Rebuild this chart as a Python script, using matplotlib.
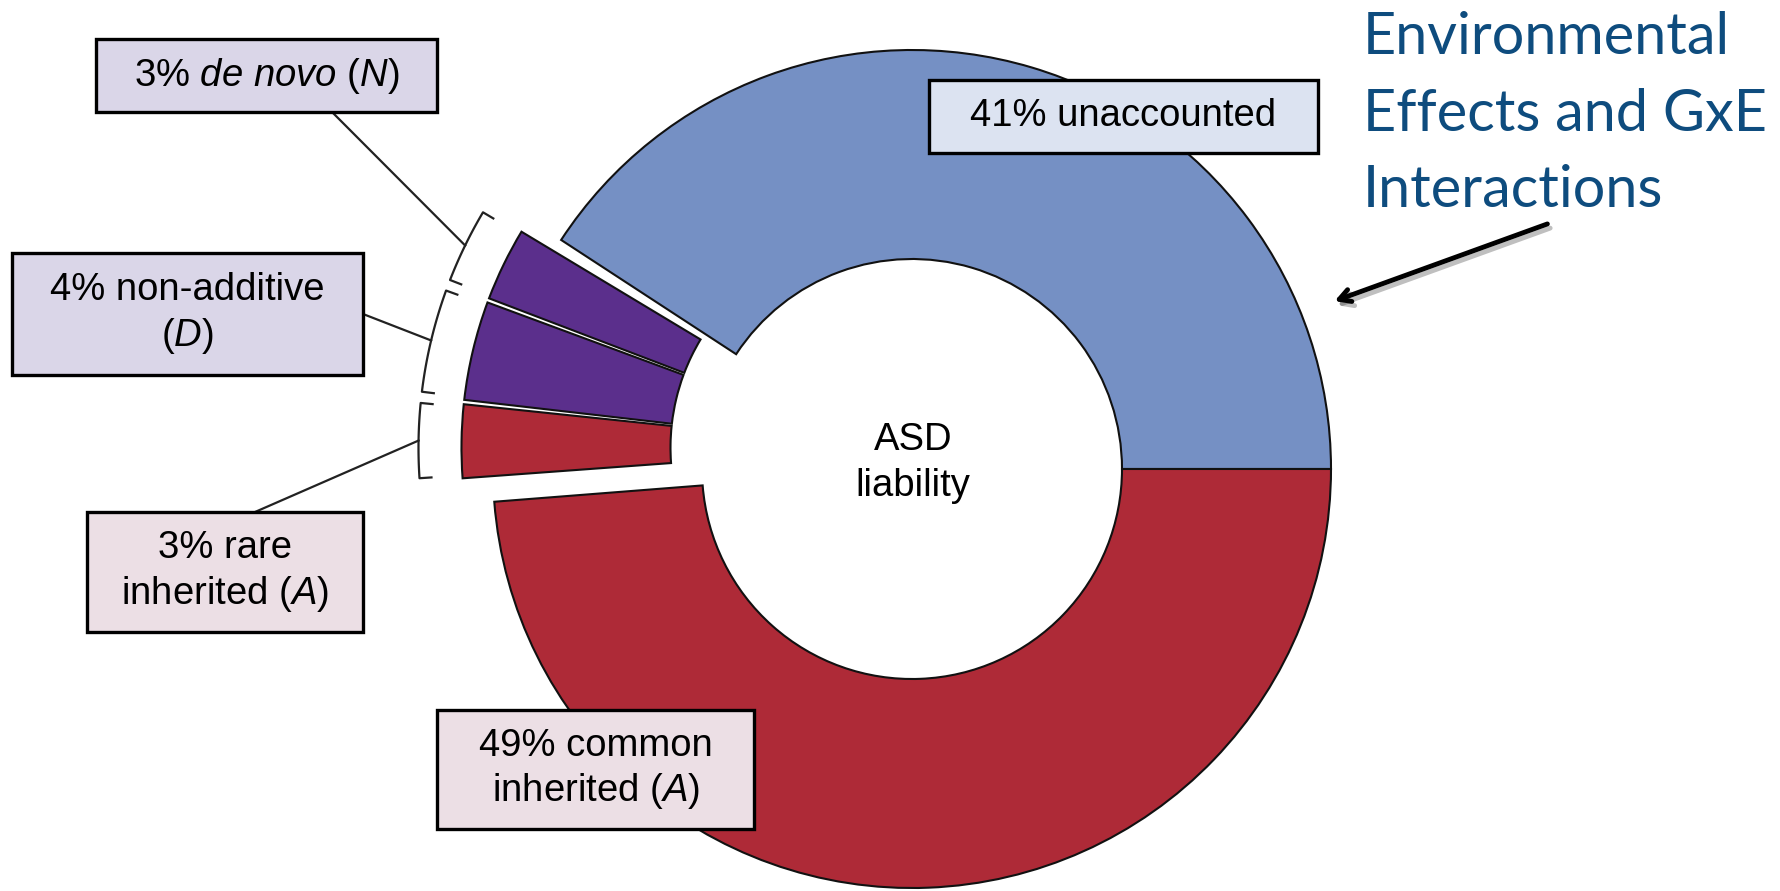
import numpy as np
import matplotlib.pyplot as plt
from matplotlib.patches import Wedge, Rectangle
import matplotlib.patheffects as pe

plt.rcParams['font.family'] = ['Liberation Sans', 'DejaVu Sans']
plt.rcParams['mathtext.fontset'] = 'custom'
plt.rcParams['mathtext.rm'] = 'Liberation Sans'
plt.rcParams['mathtext.it'] = 'Liberation Sans:italic'

# liability components (% of ASD liability)
components = ['unaccounted', 'de novo', 'non-additive', 'rare inherited', 'common inherited']
shares = [41, 3, 4, 3, 49]
colors = ['#7590c4', '#5b2f8c', '#5b2f8c', '#ae2a37', '#ae2a37']
labels = ['41% unaccounted',
          '3% $\\mathit{de\\ novo}$ ($\\mathit{N}$)',
          '4% non-additive\n($\\mathit{D}$)',
          '3% rare\ninherited ($\\mathit{A}$)',
          '49% common\ninherited ($\\mathit{A}$)']
exploded = [False, True, True, True, False]

# label boxes (x0, y0, x1, y1) in pixels, fill colour, leader anchor
boxes = [(929, 80, 1318, 153), (96, 39, 437, 112), (12, 253, 363, 375),
         (87, 512, 363, 632), (437, 710, 754, 829)]
box_fill = ['#dce3f1', '#dad6e8', '#dad6e8', '#ecdfe5', '#ecdfe5']
anchors = [None, (333, 113), (363, 314), (255, 512), None]

W, H = 1781, 891
cx, cy = 912, 469
R, r = 419, 210
gap = 1.8
scale = (360 - gap) / sum(shares)

fig = plt.figure(figsize=(W / 100, H / 100), dpi=100)
ax = fig.add_axes([0, 0, 1, 1])
ax.set_xlim(0, W)
ax.set_ylim(H, 0)
ax.axis('off')

starts, ends = [], []
a = 0.0
for i, s in enumerate(shares):
    if i == 1:
        a += gap
    starts.append(a)
    a += s * scale
    ends.append(a)

# small wedges pulled out together, up and to the left
off, off_dir = 38, np.radians(146)
ex = (cx + off * np.cos(off_dir), cy - off * np.sin(off_dir))


def pt(c, theta, rho):
    t = np.radians(theta)
    return c[0] + rho * np.cos(t), c[1] - rho * np.sin(t)


for i in range(len(shares)):
    t1, t2 = starts[i], ends[i]
    c = (cx, cy)
    if exploded[i]:
        t1 += 0.3
        t2 -= 0.3
        c = ex
    ax.add_patch(Wedge(c, R, -t2, -t1, width=R - r, facecolor=colors[i],
                       edgecolor='#111111', lw=1.5))

# brackets and leader lines
Rb = 462
for i in range(len(shares)):
    if anchors[i] is None:
        continue
    th = np.linspace(starts[i] + 0.7, ends[i] - 0.7, 30)
    xs, ys = pt(ex, th, Rb)
    hx0, hy0 = pt(ex, th[0], Rb - 12)
    hx1, hy1 = pt(ex, th[-1], Rb - 12)
    ax.plot(np.r_[hx0, xs, hx1], np.r_[hy0, ys, hy1], color='#222222', lw=1.6)
    mx, my = pt(ex, (starts[i] + ends[i]) / 2, Rb)
    ax.plot([mx, anchors[i][0]], [my, anchors[i][1]], color='#222222', lw=1.6)

for i in range(len(shares)):
    x0, y0, x1, y1 = boxes[i]
    ax.add_patch(Rectangle((x0, y0), x1 - x0, y1 - y0, facecolor=box_fill[i],
                           edgecolor='black', lw=2.4, zorder=3))
    ax.text((x0 + x1) / 2, (y0 + y1) / 2, labels[i], ha='center', va='center',
            fontsize=27.5, linespacing=1.25, zorder=4)

ax.text(cx + 1, 463, 'ASD\nliability', ha='center', va='center', fontsize=27.5,
        linespacing=1.35)

ax.text(1363, 11, 'Environmental\nEffects and GxE\nInteractions', ha='left', va='top',
        fontsize=41.5, family='Lato', color='#0e4c7e', linespacing=1.55)

ax.annotate('', xy=(1332, 302), xytext=(1550, 223),
            arrowprops=dict(arrowstyle='->,head_length=0.8,head_width=0.45',
                            lw=3.5, color='black',
                            path_effects=[pe.SimpleLineShadow(offset=(2, -3), alpha=0.25),
                                          pe.Normal()]))

fig.savefig('out.png', dpi=100)
